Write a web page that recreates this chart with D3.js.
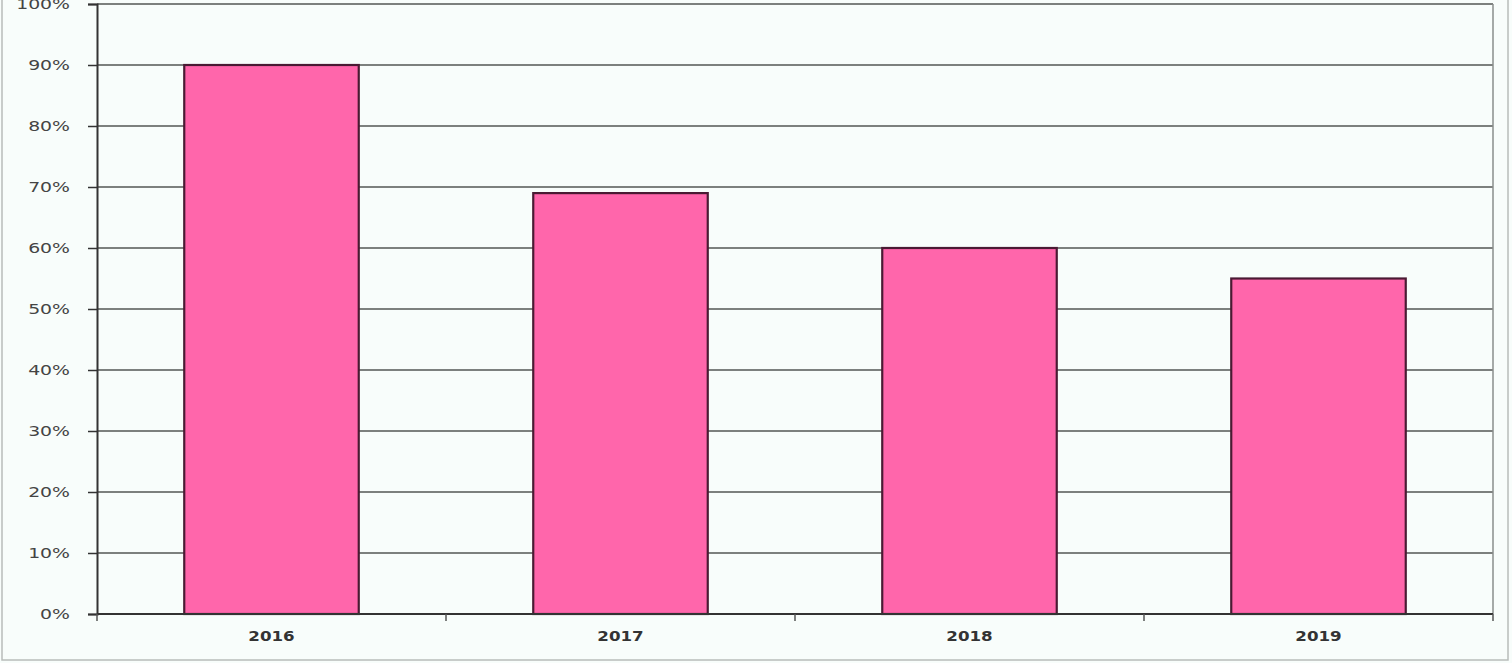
<!DOCTYPE html>
<html><head><meta charset="utf-8">
<script src="https://cdn.jsdelivr.net/npm/d3@7"></script>
<style>body{margin:0;background:#fff}svg{display:block}</style>
</head><body>
<script>
const categories = ["2016","2017","2018","2019"];
const values = [90, 69, 60, 55];
const yTicks = [0,10,20,30,40,50,60,70,80,90,100];

const W = 1512, H = 663;
const m = {left: 97, right: 19, top: 4, bottom: 49};
const svg = d3.select("body").append("svg").attr("width", W).attr("height", H);
svg.append("rect").attr("width", W).attr("height", H).attr("fill", "#f8fdfb");
svg.append("rect").attr("x", 2).attr("y", -5).attr("width", 1506).attr("height", 665)
  .attr("fill", "none").attr("stroke", "#b8bcba").attr("stroke-width", 1.5);

const x = d3.scaleBand().domain(categories).range([m.left, W - m.right]).paddingInner(0.5).paddingOuter(0.25);
const y = d3.scaleLinear().domain([0, 100]).range([H - m.bottom, m.top]);

// gridlines
svg.append("g").selectAll("line").data(yTicks.filter(d => d > 0)).join("line")
  .attr("x1", m.left).attr("x2", W - m.right)
  .attr("y1", d => y(d)).attr("y2", d => y(d))
  .attr("stroke", "#7c807e").attr("stroke-width", 2);
// right border
svg.append("line").attr("x1", W - m.right).attr("x2", W - m.right).attr("y1", y(100)).attr("y2", y(0))
  .attr("stroke", "#8a8e8c").attr("stroke-width", 1.5);

// bars
svg.append("g").selectAll("rect").data(values).join("rect")
  .attr("x", (d, i) => x(categories[i]))
  .attr("width", x.bandwidth())
  .attr("y", d => y(d))
  .attr("height", d => y(0) - y(d))
  .attr("fill", "#ff66ab").attr("stroke", "#4a1a33").attr("stroke-width", 2.2);

// y axis
const ya = svg.append("g").attr("transform", `translate(${m.left},0)`)
  .call(d3.axisLeft(y).tickValues(yTicks).tickFormat("").tickSize(9));
ya.select(".domain").attr("stroke", "#333").attr("stroke-width", 2);
ya.selectAll(".tick line").attr("stroke", "#333").attr("stroke-width", 1.5);
svg.append("g").selectAll("text").data(yTicks).join("text")
  .attr("transform", d => `translate(70,${y(d) + 5}) scale(1.3,1)`)
  .attr("text-anchor", "end")
  .attr("font-family", "DejaVu Sans, Verdana, sans-serif").attr("font-size", 14.5).attr("fill", "#444")
  .text(d => d + "%");

// x axis
const boundaries = categories.map(c => x(c) - x.step() * 0.25).concat([W - m.right]);
const xa = svg.append("g").attr("transform", `translate(0,${y(0)})`);
xa.append("line").attr("x1", m.left).attr("x2", W - m.right).attr("stroke", "#333").attr("stroke-width", 2);
xa.selectAll(".tk").data(boundaries).join("line").attr("class", "tk")
  .attr("x1", d => d).attr("x2", d => d).attr("y1", 0).attr("y2", 7)
  .attr("stroke", "#555").attr("stroke-width", 1.5);
xa.selectAll("text").data(categories).join("text")
  .attr("transform", d => `translate(${x(d) + x.bandwidth() / 2},27) scale(1.15,1)`)
  .attr("text-anchor", "middle")
  .attr("font-family", "DejaVu Sans, Verdana, sans-serif").attr("font-size", 14.5).attr("font-weight", "bold")
  .attr("fill", "#333").text(d => d);
</script>
</body></html>
